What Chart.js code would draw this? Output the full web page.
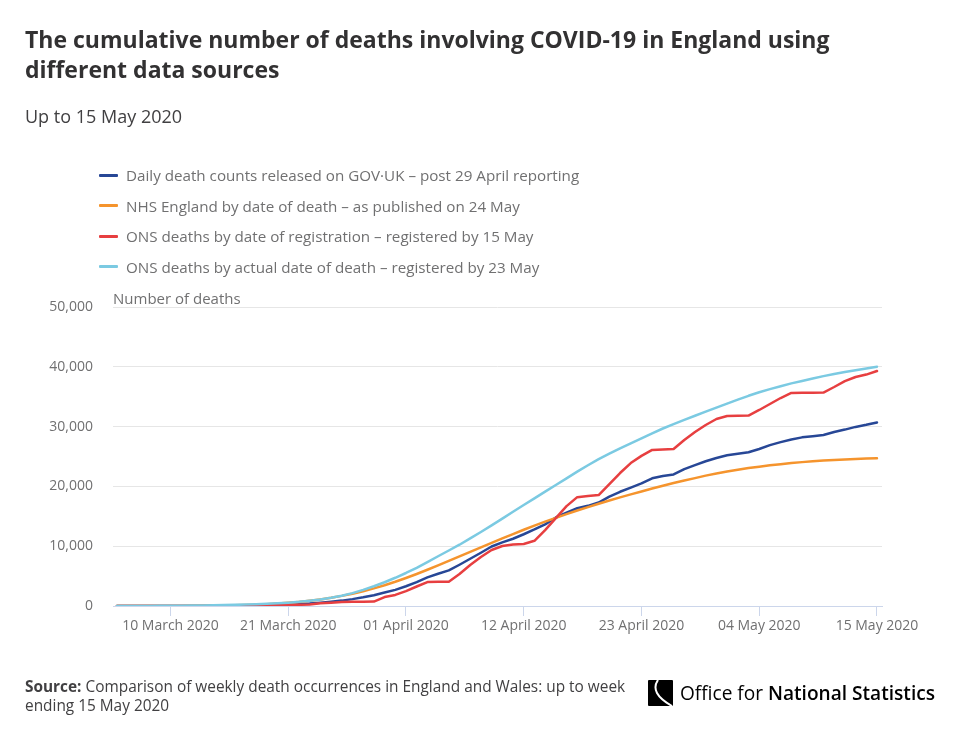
<!DOCTYPE html>
<html><head><meta charset="utf-8">
<script src="https://cdn.jsdelivr.net/npm/chart.js@4.4.0/dist/chart.umd.min.js"></script>
<style>
html,body{margin:0;padding:0;background:#fff;}
body{width:960px;height:736px;position:relative;overflow:hidden;font-family:"Open Sans",sans-serif;}
canvas{position:absolute;left:0;top:0;}
.t{position:absolute;white-space:nowrap;}
#title{left:25px;top:24px;font-size:23px;font-weight:700;line-height:30px;color:#323132;}
#sub{left:25px;top:104px;font-size:18px;line-height:25px;color:#414042;}
#legend{position:absolute;left:99px;top:160px;}
.li{height:30.5px;display:flex;align-items:center;font-size:15.2px;color:#707071;white-space:nowrap;}
.li span.m{display:inline-block;width:19px;height:3px;margin-right:8px;border-radius:1px;}
#ylab{left:113px;top:288px;font-size:15px;line-height:20px;color:#707071;}
#source{left:25px;top:677px;font-size:15.4px;line-height:19px;color:#414042;}
#logo{position:absolute;left:648px;top:680px;}
#logotext{left:680px;top:679px;font-size:19.1px;line-height:28px;color:#000;}
</style></head>
<body>
<canvas id="c" width="960" height="736"></canvas>
<div class="t" id="title">The cumulative number of deaths involving COVID-19 in England using<br>different data sources</div>
<div class="t" id="sub">Up to 15 May 2020</div>
<div id="legend"></div>
<div class="t" id="ylab">Number of deaths</div>
<div class="t" id="source"><b>Source:</b> Comparison of weekly death occurrences in England and Wales: up to week<br>ending 15 May 2020</div>
<svg id="logo" width="25" height="26" viewBox="0 0 25 26"><rect x="0" y="0" width="25" height="26" rx="1" fill="#000"/><path d="M10 0 Q1 13 24 26" stroke="#fff" stroke-width="2" fill="none"/></svg>
<div class="t" id="logotext">Office for <span style="font-weight:600">National Statistics</span></div>
<script>
// Categories: one per day, 5 March 2020 to 15 May 2020
const dates = [
 '2020-03-05','2020-03-06','2020-03-07','2020-03-08','2020-03-09','2020-03-10','2020-03-11','2020-03-12','2020-03-13','2020-03-14',
 '2020-03-15','2020-03-16','2020-03-17','2020-03-18','2020-03-19','2020-03-20','2020-03-21','2020-03-22','2020-03-23','2020-03-24',
 '2020-03-25','2020-03-26','2020-03-27','2020-03-28','2020-03-29','2020-03-30','2020-03-31','2020-04-01','2020-04-02','2020-04-03',
 '2020-04-04','2020-04-05','2020-04-06','2020-04-07','2020-04-08','2020-04-09','2020-04-10','2020-04-11','2020-04-12','2020-04-13',
 '2020-04-14','2020-04-15','2020-04-16','2020-04-17','2020-04-18','2020-04-19','2020-04-20','2020-04-21','2020-04-22','2020-04-23',
 '2020-04-24','2020-04-25','2020-04-26','2020-04-27','2020-04-28','2020-04-29','2020-04-30','2020-05-01','2020-05-02','2020-05-03',
 '2020-05-04','2020-05-05','2020-05-06','2020-05-07','2020-05-08','2020-05-09','2020-05-10','2020-05-11','2020-05-12','2020-05-13',
 '2020-05-14','2020-05-15'];
const tickDates = ['2020-03-10','2020-03-21','2020-04-01','2020-04-12','2020-04-23','2020-05-04','2020-05-15'];
const tickLabels = ['10 March 2020','21 March 2020','01 April 2020','12 April 2020','23 April 2020','04 May 2020','15 May 2020'];
const yTicks = [0,10000,20000,30000,40000,50000];

const seriesNames = [
 'Daily death counts released on GOV\u00B7UK \u2013 post 29 April reporting',
 'NHS England by date of death \u2013 as published on 24 May',
 'ONS deaths by date of registration \u2013 registered by 15 May',
 'ONS deaths by actual date of death \u2013 registered by 23 May'];
const seriesColors = ['#274796','#F5942D','#E73F40','#7BCAE2'];

const govUk = [0,1,2,3,5,7,10,14,20,28,38,52,70,95,125,170,230,310,410,550,
 720,900,1150,1450,1800,2250,2700,3300,4000,4790,5400,5950,6900,7900,8900,9950,10650,11250,12000,12800,
 13650,14800,15600,16350,16750,17300,18300,19100,19800,20500,21350,21750,22000,22900,23550,24200,24750,25200,25450,25700,
 26250,26900,27400,27850,28200,28400,28600,29100,29500,29950,30300,30700];
const nhsEngland = [1,2,3,5,8,13,20,29,42,60,85,120,165,225,300,400,525,680,870,1100,
 1370,1690,2060,2480,2950,3470,4050,4680,5350,6060,6800,7550,8300,9050,9800,10550,11300,12030,12750,13440,
 14100,14740,15360,15960,16540,17100,17640,18160,18660,19140,19650,20120,20560,20980,21380,21800,22150,22480,22780,23060,
 23300,23520,23720,23900,24060,24200,24320,24420,24510,24590,24650,24700];
const onsRegistered = [0,0,0,1,2,3,5,8,12,18,25,35,50,70,95,125,170,200,260,450,
 550,650,720,730,740,1500,1850,2500,3260,4000,4050,4060,5350,6850,8200,9360,10030,10280,10370,10900,
 12700,14700,16700,18200,18400,18560,20400,22240,23900,25100,26100,26170,26250,27760,29100,30270,31270,31770,31800,31850,
 32780,33780,34780,35620,35650,35680,35700,36620,37600,38300,38700,39300];
const onsOccurred = [4,7,11,17,25,36,52,72,98,125,150,190,240,300,370,455,560,700,880,1100,
 1370,1700,2150,2700,3300,3970,4720,5520,6380,7350,8320,9280,10250,11300,12380,13480,14620,15760,16890,18000,
 19120,20240,21350,22470,23540,24560,25480,26360,27200,28050,28880,29680,30420,31130,31810,32500,33180,33850,34500,35150,
 35750,36270,36750,37230,37640,38050,38440,38800,39120,39420,39710,40020];

const seriesValues = [govUk, nhsEngland, onsRegistered, onsOccurred];
const tickIndex = tickDates.map(d => dates.indexOf(d));

// HTML legend built from the series
const leg = document.getElementById('legend');
seriesNames.forEach((n,i)=>{
  const row=document.createElement('div'); row.className='li';
  const m=document.createElement('span'); m.className='m'; m.style.background=seriesColors[i];
  row.appendChild(m); row.appendChild(document.createTextNode(n)); leg.appendChild(row);
});

function fmt(v){ return v.toString().replace(/\B(?=(\d{3})+(?!\d))/g, ','); }

function draw(){
  Chart.defaults.font.family = '"Open Sans", sans-serif';
  Chart.defaults.color = '#707071';
  new Chart(document.getElementById('c'), {
    type:'line',
    data:{
      datasets: seriesValues.map((vals,i)=>({
        label: seriesNames[i],
        data: vals.map((v,k)=>({x:k, y:v})),
        borderColor: seriesColors[i],
        backgroundColor: seriesColors[i],
        borderWidth: 2.5,
        pointRadius: 0,
        tension: 0,
        borderJoinStyle: 'round',
        borderCapStyle: 'round',
        order: 4 - i,
        fill: false
      }))
    },
    options:{
      responsive:false, animation:false,
      layout:{padding:{left:0,right:78,top:307,bottom:90}},
      plugins:{legend:{display:false}, tooltip:{enabled:false}, title:{display:false}},
      scales:{
        x:{
          type:'linear', min:-0.37, max:71.47,
          afterBuildTicks:(s)=>{ s.ticks = tickIndex.map(v=>({value:v})); },
          afterFit:(s)=>{ s.height = 40; },
          ticks:{autoSkip:false, maxRotation:0, padding:2, font:{size:14}, color:'#707071',
            callback:(v)=>{ const k=tickIndex.indexOf(v); return k>=0 ? tickLabels[k] : null; }},
          grid:{drawOnChartArea:false, drawTicks:true, tickLength:10, tickColor:'#ccd6eb', color:'#ccd6eb'},
          border:{display:true, color:'#ccd6eb', width:1}
        },
        y:{
          min:0, max:50000,
          afterBuildTicks:(s)=>{ s.ticks = yTicks.map(v=>({value:v})); },
          afterFit:(s)=>{ s.width = 113; },
          ticks:{padding:20, font:{size:14}, color:'#707071', callback:(v)=>fmt(v)},
          grid:{color:'#e6e6e6', drawTicks:false, lineWidth:1},
          border:{display:false}
        }
      }
    }
  });
}
if (document.fonts && document.fonts.load) {
  Promise.all([document.fonts.load('14px "Open Sans"'), document.fonts.load('bold 14px "Open Sans"')]).then(draw, draw);
} else draw();
</script>
</body></html>
